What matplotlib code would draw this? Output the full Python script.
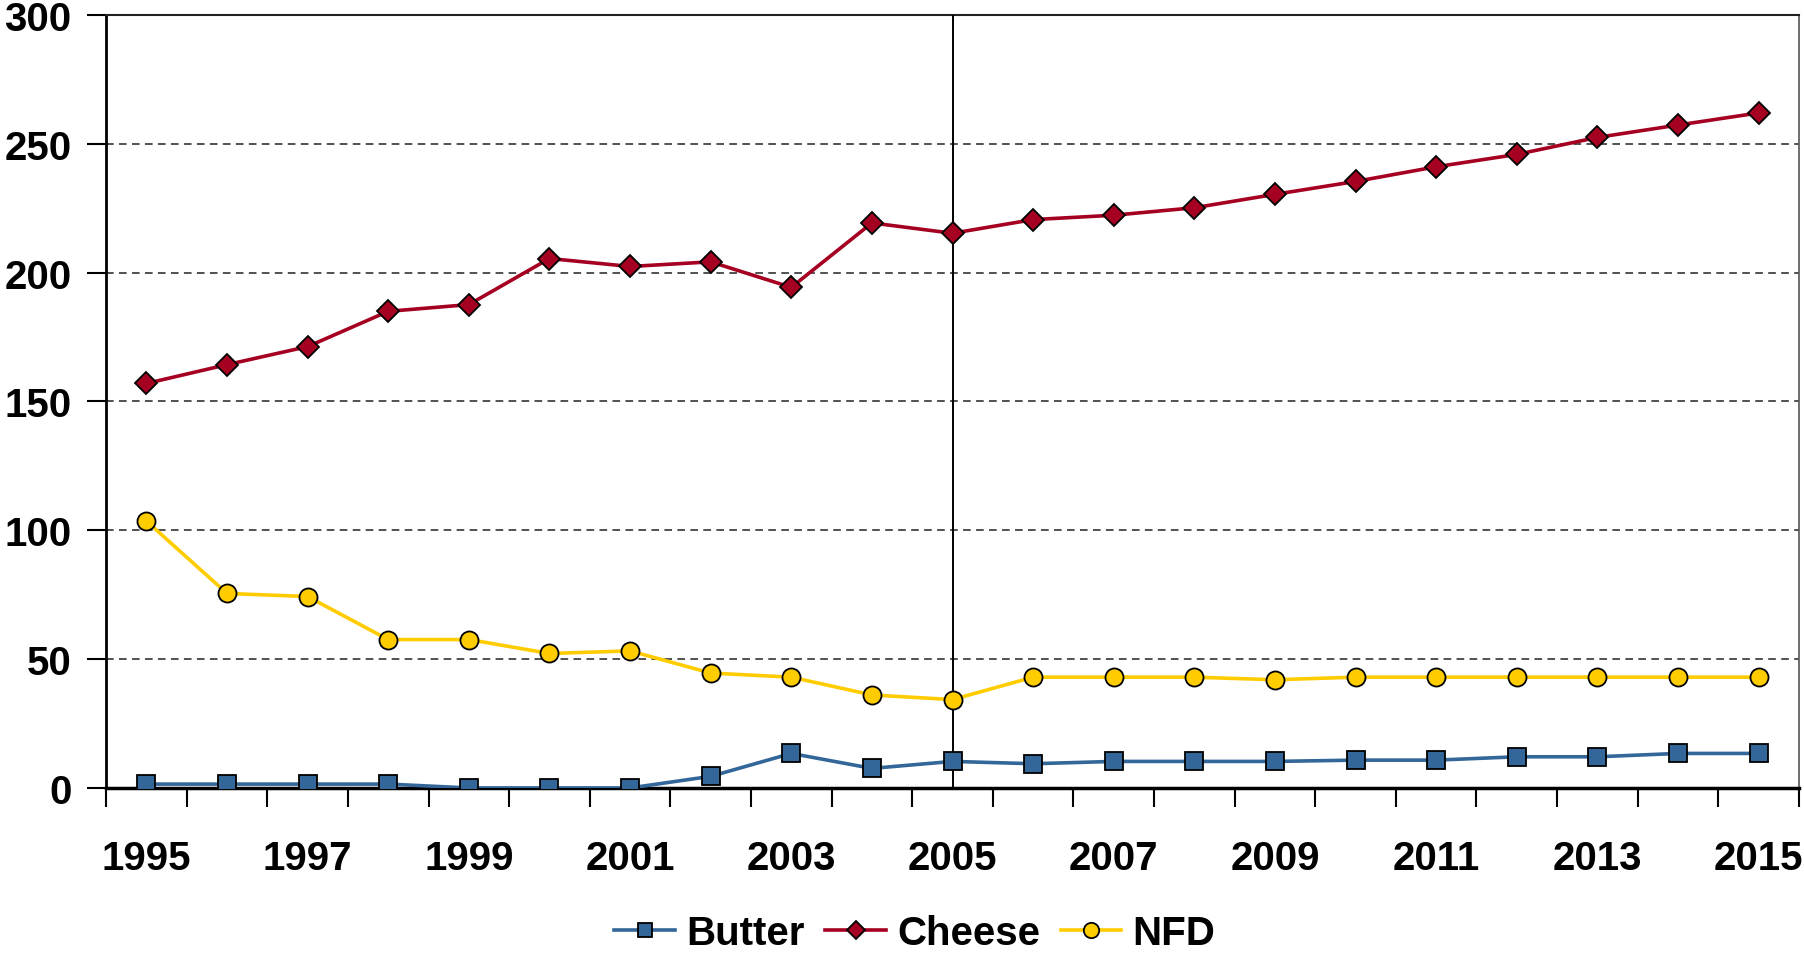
import matplotlib
matplotlib.use("Agg")
import matplotlib.pyplot as plt
import numpy as np

years = list(range(1995, 2016))
butter = [1.5, 1.5, 1.5, 1.5, 0, 0, 0, 4.5, 13.4, 7.6, 10.3, 9.4, 10.3, 10.3, 10.3, 10.8, 10.8, 12.1, 12.1, 13.4, 13.4]
cheese = [157, 164.3, 171.3, 185, 187.6, 205.5, 202.4, 204.2, 194.3, 219.3, 215.3, 220.6, 222.3, 225.2, 230.4, 235.4, 241.1, 245.9, 252.5, 257.3, 262]
nfd = [103.6, 75.5, 74.3, 57.6, 57.6, 52.2, 53.2, 44.6, 43, 36.1, 34.3, 43, 43, 43, 42, 43, 43, 43, 43, 43, 43]

plt.rcParams['font.family'] = ['Liberation Sans', 'DejaVu Sans']
plt.rcParams['font.weight'] = 'bold'

fig = plt.figure(figsize=(18.04, 9.54), dpi=100)
ax = fig.add_axes([0.0588, 0.1730, 0.9972 - 0.0588, 0.9832 - 0.1730])

x = np.arange(len(years))
ax.plot(x, butter, color='#336699', lw=2.6, marker='s', ms=12.5, mfc='#336699', mec='black', mew=1.3, label='Butter', zorder=4)
ax.plot(x, cheese, color='#A50021', lw=2.6, marker='D', ms=11, mfc='#A50021', mec='black', mew=1.3, label='Cheese', zorder=4)
ax.plot(x, nfd, color='#FFCC00', lw=2.6, marker='o', ms=13, mfc='#FFCC00', mec='black', mew=1.3, label='NFD', zorder=4)

ax.axvline(years.index(2005), color='black', lw=1.4, zorder=3)

ax.set_xlim(-0.5, len(years) - 0.5)
ax.set_ylim(0, 300)
ax.set_yticks(np.arange(0, 301, 50))
ax.yaxis.grid(True, linestyle=(0, (5, 3.5)), color='#222222', lw=1.1)
ax.set_axisbelow(True)

ax.set_xticks(np.arange(-0.5, len(years), 1.0))
ax.set_xticklabels([])
ax.set_xticks(x[::2], minor=True)
ax.set_xticklabels([str(y) for y in years[::2]], minor=True)
ax.tick_params(axis='x', which='major', length=14, width=1.5, direction='out')
ax.tick_params(axis='x', which='minor', length=0, pad=37, labelsize=29)
ax.tick_params(axis='y', length=14, width=1.5, direction='out', pad=11, labelsize=29)

for lab in ax.get_xticklabels(minor=True) + ax.get_yticklabels():
    lab.set_fontweight('bold')

ax.spines['left'].set_linewidth(2)
ax.spines['bottom'].set_linewidth(2.5)
ax.spines['top'].set_linewidth(1.5)
ax.spines['top'].set_color('#222222')
ax.spines['right'].set_linewidth(1.2)
ax.spines['right'].set_color('#555555')

leg = fig.legend(loc='center', bbox_to_anchor=(915 / 1804, 1 - 934 / 954), ncol=3, frameon=False,
                 prop={'size': 29, 'weight': 'bold'}, handlelength=1.5, columnspacing=0.52, handletextpad=0.28,
                 borderpad=0, markerscale=0.85)

fig.savefig('out.png', dpi=100)
